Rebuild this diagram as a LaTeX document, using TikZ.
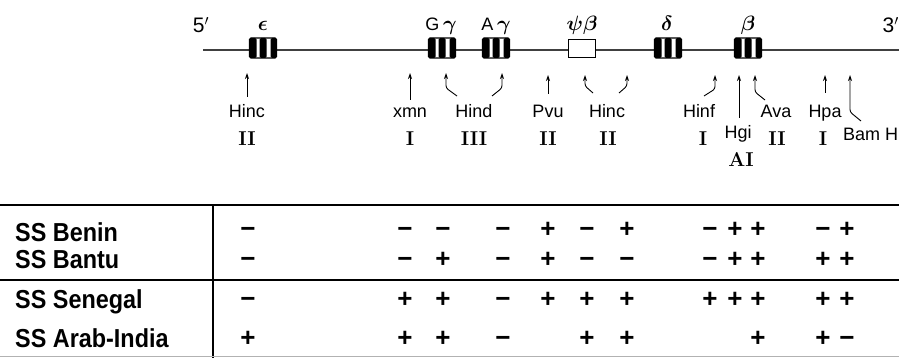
\documentclass[tikz,border=0pt]{standalone}
\usepackage{fontspec}
\usepackage{amsmath}
\usetikzlibrary{arrows.meta, positioning, calc}
\newfontfamily\mapfont{Liberation Sans}
\newfontfamily\rowfont[FakeStretch=0.9]{Liberation Sans}

\tikzset{
  gene/.style={draw, line width=1.3pt, rounded corners=1.5pt, minimum width=27pt, minimum height=20pt,
    inner sep=0pt, fill=white,
    path picture={
      \fill[black] (path picture bounding box.south west) rectangle ([xshift=7pt]path picture bounding box.north west);
      \fill[black] ([xshift=10pt]path picture bounding box.south west) rectangle ([xshift=17pt]path picture bounding box.north west);
      \fill[black] ([xshift=-6pt]path picture bounding box.south east) rectangle (path picture bounding box.north east);
    }},
  pseudo/.style={draw, line width=0.8pt, minimum width=27pt, minimum height=18pt, inner sep=0pt, fill=white},
  cut/.style={{Stealth[length=6pt, width=4pt]}-, line width=0.9pt, rounded corners=2.5pt},
  enz/.style={font=\mapfont\fontsize{18}{18}\selectfont, inner sep=0pt, anchor=base},
  num/.style={font=\bfseries\fontsize{20}{20}\selectfont, inner sep=0pt, anchor=base},
  top/.style={font=\boldmath\fontsize{22}{22}\selectfont, inner sep=0pt, anchor=base},
  rowlab/.style={font=\rowfont\bfseries\fontsize{26}{26}\selectfont, inner sep=0pt, anchor=base west},
  sign/.style={font=\mapfont\bfseries\fontsize{26}{26}\selectfont, inner sep=0pt, anchor=base},
  rule/.style={line width=1.6pt}
}

\begin{document}
\begin{tikzpicture}[x=1pt, y=-1pt]
  \useasboundingbox (0,0) rectangle (899,358);
  \clip (0,0) rectangle (899,358);

  % Map line
  \draw[line width=1.1pt, black!75] (203,50) -- (899,50);

  % Genes
  \foreach \n/\x in {eps/263, ggam/442, agam/496, delta/668, beta/748}
    \node[gene] (\n) at (\x,48) {};
  \node[pseudo] (psib) at (582,48) {};

  % Gene names
  \node[top, font=\mapfont\fontsize{21}{21}\selectfont] (five) at (201,33) {5$'$};
  \node[top, font=\mapfont\fontsize{21}{21}\selectfont, anchor=base east] (three) at (899,33) {3$'$};
  \node[top] (leps) at (263,31) {$\epsilon$};
  \node[top] (lggam) at (441,31) {{\mapfont\fontsize{18}{18}\selectfont G}\,$\gamma$};
  \node[top] (lagam) at (496,31) {{\mapfont\fontsize{18}{18}\selectfont A}\,$\gamma$};
  \node[top] (lpsib) at (582,31) {$\psi\beta$};
  \node[top] (ldelta) at (667,31) {$\delta$};
  \node[top] (lbeta) at (748,31) {$\beta$};

  % Cut sites
  \foreach \n/\x/\y in {c1/247/73, c2/410/73, c3/446/73, c4/502/73, c5/548/75, c6/585/75,
                        c7/627/75, c8/715/75, c9/739/75, c10/755/75, c11/825/75, c12/850/75}
    \coordinate (\n) at (\x,\y);
  \draw[cut] (c1) -- ++(0,24);
  \draw[cut] (c2) -- ++(0,27);
  \draw[cut] (c3) -- ++(0,15) -- ++(11,8);
  \draw[cut] (c4) -- ++(0,15) -- ++(-10,8);
  \draw[cut] (c5) -- ++(0,19);
  \draw[cut] (c6) -- ++(0,11) -- ++(8,7);
  \draw[cut] (c7) -- ++(0,11) -- ++(-8,7);
  \draw[cut] (c8) -- ++(0,14) -- ++(-11,7);
  \draw[cut] (c9) -- ++(0,43);
  \draw[cut] (c10) -- ++(0,17) -- ++(10,8);
  \draw[cut] (c11) -- ++(0,18);
  \draw[cut] (c12) -- ++(0,37) -- ++(11,9);

  % Enzymes
  \node[enz] (hincA) at (247,118) {Hinc};
  \node[enz] (xmn) at (410,118) {xmn};
  \node[enz] (hind) at (474,118) {Hind};
  \node[enz] (pvu) at (548,118) {Pvu};
  \node[enz] (hincB) at (607,118) {Hinc};
  \node[enz] (hinf) at (699,118) {Hinf};
  \node[enz] (ava) at (776,118) {Ava};
  \node[enz] (hpa) at (825,118) {Hpa};
  \node[enz] (hgi) at (738,139) {Hgi};
  \node[enz, anchor=base west] (bam) at (843,141) {Bam H};
  \foreach \n/\x/\t in {rA/247/II, rB/410/I, rC/474/III, rD/548/II, rE/608/II, rF/703/I, rG/777/II, rH/823/I}
    \node[num] (\n) at (\x,146) {\t};
  \node[num] (rI) at (741,167) {AI};

  % Table
  \draw[rule] (0,205) -- (899,205);
  \draw[rule] (0,280) -- (899,280);
  \draw[line width=2.4pt] (213,205) -- (213,358);
  \draw[gray!60, line width=1pt] (0,356) -- (899,356);

  \foreach \n/\y/\t in {benin/241/SS Benin, bantu/268/SS Bantu, senegal/308/SS Senegal, arab/347/SS Arab-India}
    \node[rowlab] (\n) at (15,\y) {\t};

  % SS Benin
  \foreach \x/\s [count=\i] in {248/−, 405/−, 443/−, 503/−, 548/+, 587/−, 627/+, 710/−, 735/+, 758/+, 823/−, 847/+}
    \node[sign] (a\i) at (\x,237) {\s};
  % SS Bantu
  \foreach \x/\s [count=\i] in {248/−, 405/−, 443/+, 503/−, 548/+, 587/−, 627/−, 710/−, 735/+, 758/+, 823/+, 847/+}
    \node[sign] (b\i) at (\x,267) {\s};
  % SS Senegal
  \foreach \x/\s [count=\i] in {248/−, 405/+, 443/+, 503/−, 548/+, 587/+, 627/+, 710/+, 735/+, 758/+, 823/+, 847/+}
    \node[sign] (s\i) at (\x,307) {\s};
  % SS Arab-India
  \foreach \x/\s [count=\i] in {248/+, 405/+, 443/+, 503/−, 587/+, 627/+, 758/+, 823/+, 847/−}
    \node[sign] (r\i) at (\x,346) {\s};
\end{tikzpicture}
\end{document}
